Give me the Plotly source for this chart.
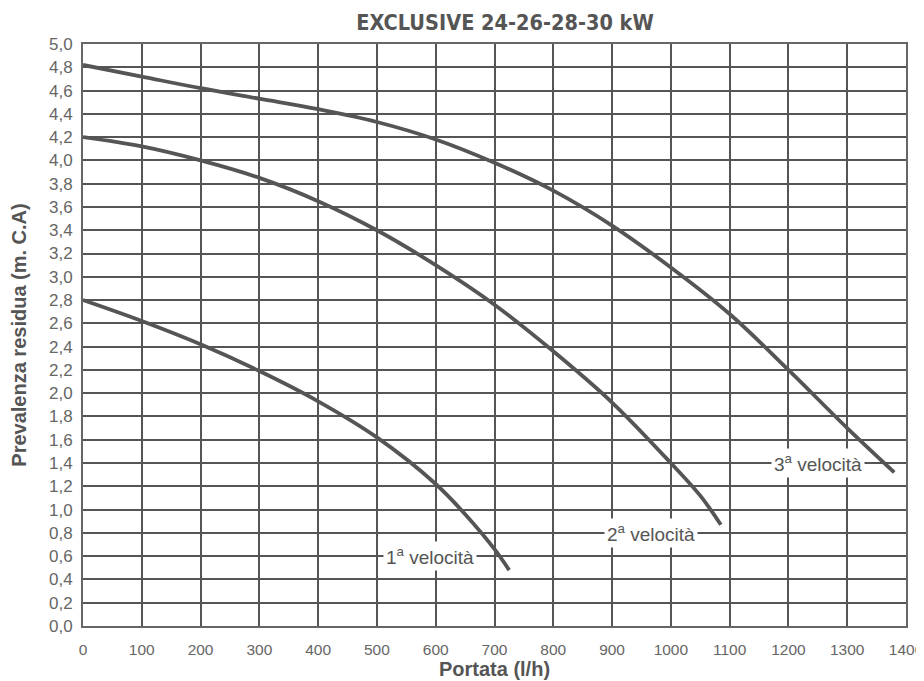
import plotly.graph_objects as go

x1 = [0, 100, 200, 300, 400, 500, 600, 650, 700, 725]
y1 = [2.80, 2.62, 2.42, 2.19, 1.93, 1.62, 1.22, 0.96, 0.66, 0.48]

x2 = [0, 100, 200, 300, 400, 500, 600, 700, 800, 900, 1000, 1050, 1085]
y2 = [4.20, 4.12, 4.00, 3.85, 3.65, 3.40, 3.10, 2.76, 2.36, 1.92, 1.40, 1.12, 0.87]

x3 = [0, 100, 200, 300, 400, 500, 600, 700, 800, 900, 1000, 1100, 1200, 1300, 1380]
y3 = [4.82, 4.72, 4.62, 4.53, 4.44, 4.33, 4.18, 3.98, 3.74, 3.44, 3.08, 2.68, 2.20, 1.70, 1.32]

series_names = ["1<sup>a</sup> velocità", "2<sup>a</sup> velocità", "3<sup>a</sup> velocità"]
label_x = [590, 966, 1250]
label_y = [0.6, 0.8, 1.4]

x_ticks = list(range(0, 1401, 100))
y_ticks = [i / 10 for i in range(0, 51, 2)]
y_ticktext = [f"{v:.1f}".replace(".", ",") for v in y_ticks]

fig = go.Figure()
for xs, ys in [(x1, y1), (x2, y2), (x3, y3)]:
    fig.add_trace(go.Scatter(x=xs, y=ys, mode="lines",
                             line=dict(color="#555555", width=3.8, shape="spline"),
                             showlegend=False, hoverinfo="skip"))

for name, lx, ly in zip(series_names, label_x, label_y):
    fig.add_annotation(x=lx, y=ly, text=name, showarrow=False,
                       font=dict(family="Liberation Sans, Arial, sans-serif", size=19, color="#555555"),
                       bgcolor="white", borderpad=2)

fig.update_layout(
    width=916, height=673,
    paper_bgcolor="white", plot_bgcolor="white",
    margin=dict(l=75, r=18, t=36, b=55),
    title=dict(text="<b>EXCLUSIVE 24-26-28-30 kW</b>", x=0.5426, xanchor="center",
               y=0.979, yanchor="middle",
               font=dict(family="DejaVu Sans Condensed, Liberation Sans, Arial", size=21.5, color="#555555")),
)
fig.update_xaxes(range=[0, 1400], tickvals=x_ticks, ticktext=[str(v) for v in x_ticks],
                 showgrid=True, gridcolor="#555555", gridwidth=2, zeroline=False,
                 showline=True, linecolor="#666666", linewidth=2, mirror=True,
                 ticks="", ticklabelstandoff=8, automargin=False,
                 tickfont=dict(family="Liberation Sans, Arial", size=15.5, color="#666666"),
                 title=dict(text="<b>Portata (l/h)</b>", standoff=2,
                            font=dict(family="Liberation Sans, Arial", size=20, color="#555555")))
fig.update_yaxes(range=[0, 5], tickvals=y_ticks, ticktext=y_ticktext,
                 showgrid=True, gridcolor="#555555", gridwidth=2, zeroline=False,
                 showline=True, linecolor="#666666", linewidth=2, mirror=True,
                 ticks="", ticklabelstandoff=5, automargin=False,
                 tickfont=dict(family="Liberation Sans, Arial", size=17, color="#666666"),
                 title=dict(text="<b>Prevalenza residua (m. C.A)</b>", standoff=20,
                            font=dict(family="Liberation Sans, Arial", size=20, color="#555555")))

fig.write_html("out.html")
